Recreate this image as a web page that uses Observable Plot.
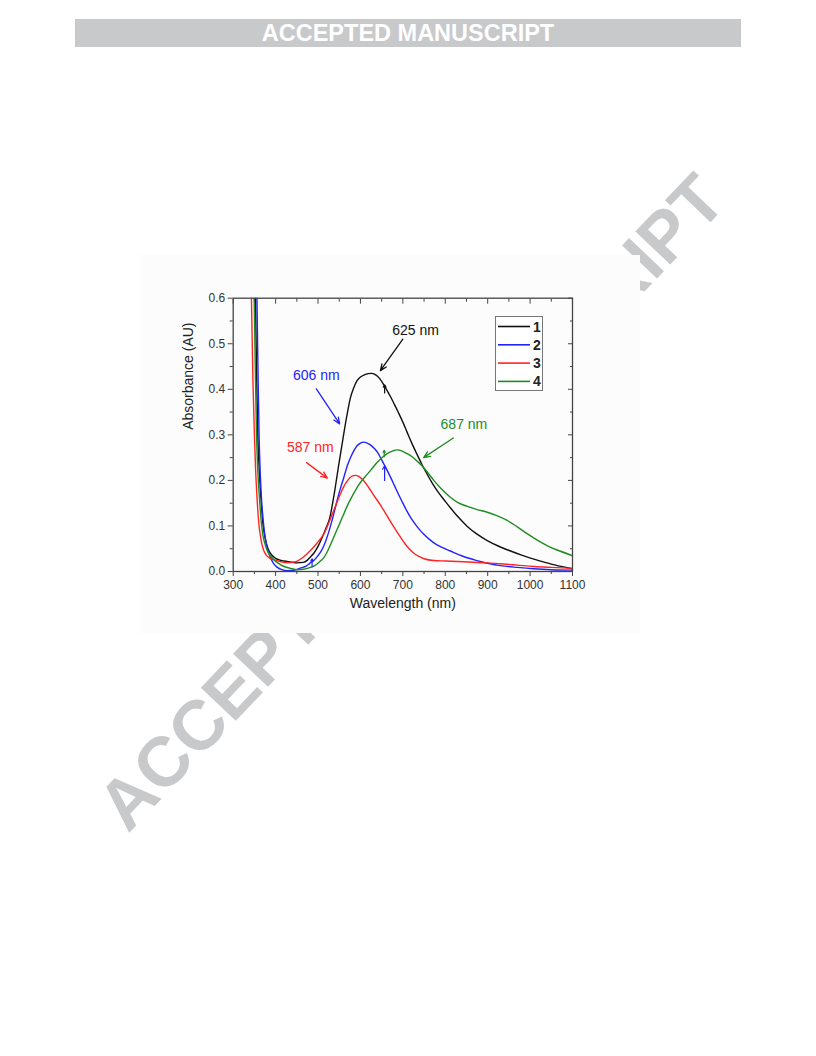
<!DOCTYPE html>
<html><head><meta charset="utf-8">
<script src="https://cdn.jsdelivr.net/npm/d3@7"></script>
<script src="https://cdn.jsdelivr.net/npm/@observablehq/plot@0.6"></script>
<style>
body{margin:0;width:816px;height:1056px;position:relative;background:#fff;font-family:"Liberation Sans",Arial,sans-serif;overflow:hidden}
#bar{position:absolute;left:75px;top:19px;width:666px;height:28px;background:#c8c9cb;color:#fff;font-weight:bold;font-size:23.5px;text-align:center;line-height:29px}
#wm{position:absolute;left:411px;top:502px;transform:translate(-50%,-50%) rotate(-46.4deg);font-size:70px;font-weight:bold;color:#c8c9cb;white-space:nowrap;line-height:1}
#chart{position:absolute;left:140px;top:255px;width:500px;height:378px;background:#fcfcfc}
#legend{position:absolute;left:355px;top:61px;width:46px;height:73px;border:1px solid #777;background:#fff}
</style>
</head><body>
<div id="bar">ACCEPTED MANUSCRIPT</div>
<div id="wm">ACCEPTED MANUSCRIPT</div>
<div id="chart"><div id="legend"></div></div>
<script>
// ---- data ----
const seriesNames = ["1", "2", "3", "4"];
const seriesColors = ["#111111", "#2323ff", "#ff2424", "#1f8c1f"];
const xTicks = [300, 400, 500, 600, 700, 800, 900, 1000, 1100];
const xMinor = [350, 450, 550, 650, 750, 850, 950, 1050];
const yTicks = [0.0, 0.1, 0.2, 0.3, 0.4, 0.5, 0.6];
const yMinor = [0.05, 0.15, 0.25, 0.35, 0.45, 0.55];
const xLabel = "Wavelength (nm)";
const yLabel = "Absorbance (AU)";

const wl1 = [345,348,352.6,355,358,361,364,367,370,373,376,380,384,392,400,410,420,435,450,465,475,482,490,500,510,520,528,534,539,544,549,556,562,570,576,584,592,600,610,626,635,645,655,663,672,680,690,700,710,720,734,745,757,770,785,800,812,830,852,875,899,925,954,980,1009,1035,1064,1085,1100];
const abs1 = [0.9,0.75,0.6,0.44,0.3,0.23,0.18,0.14,0.105,0.085,0.07,0.056,0.046,0.035,0.029,0.025,0.023,0.021,0.019,0.02,0.025,0.032,0.04,0.055,0.075,0.098,0.119,0.148,0.175,0.205,0.235,0.275,0.31,0.352,0.38,0.403,0.419,0.427,0.432,0.435,0.432,0.424,0.41,0.397,0.382,0.367,0.348,0.328,0.306,0.284,0.256,0.235,0.214,0.193,0.172,0.154,0.14,0.12,0.099,0.082,0.068,0.056,0.045,0.036,0.027,0.02,0.013,0.009,0.006];

const wl2 = [352,354,356,358.5,361,364,367,370,373,376,380,384,390,395,404,415,427,445,460,472,478,483,490,500,507,514,520,527,533,539,545,553,561,569,577,585,592,600,608,616,625,633,640,650,663,672,680,690,700,710,720,734,750,762,773,790,812,840,875,900,930,970,1009,1050,1100];
const abs2 = [0.95,0.78,0.6,0.44,0.3,0.21,0.155,0.12,0.092,0.072,0.053,0.04,0.026,0.018,0.009,0.004,0.002,0.003,0.008,0.012,0.016,0.02,0.024,0.035,0.044,0.057,0.072,0.092,0.112,0.133,0.156,0.183,0.207,0.232,0.251,0.266,0.276,0.282,0.284,0.282,0.277,0.27,0.262,0.245,0.222,0.205,0.189,0.169,0.15,0.132,0.116,0.098,0.081,0.071,0.063,0.054,0.045,0.034,0.024,0.018,0.013,0.009,0.006,0.004,0.003];

const wl3 = [338,340.5,343,346.5,350,353,356,360,363,366,369,372,378,385,396,410,427,440,451,462,472,482,492,500,507,514,525,537,549,561,570,578,588,596,605,614,624,634,645,654,663,672,682,694,705,716,726,738,750,773,800,852,900,930,970,1009,1050,1100];
const abs3 = [0.95,0.75,0.6,0.42,0.3,0.22,0.165,0.11,0.085,0.068,0.055,0.046,0.036,0.03,0.026,0.022,0.019,0.02,0.023,0.029,0.037,0.046,0.056,0.065,0.073,0.083,0.106,0.134,0.162,0.187,0.2,0.208,0.211,0.209,0.202,0.192,0.178,0.164,0.149,0.136,0.122,0.108,0.093,0.076,0.061,0.049,0.04,0.033,0.028,0.024,0.023,0.021,0.019,0.017,0.014,0.011,0.009,0.007];

const wl4 = [341,344,347,349.5,352,355,358,362,366,370,375,380,388,396,405,420,435,451,465,475,482,490,500,507,514,520,528,537,549,561,572,584,596,610,624,638,652,665,677,687,697,710,722,734,745,757,773,790,812,830,852,875,899,920,946,970,993,1015,1040,1070,1100];
const abs4 = [0.95,0.85,0.75,0.6,0.45,0.3,0.22,0.16,0.11,0.08,0.06,0.046,0.034,0.026,0.019,0.011,0.007,0.004,0.005,0.007,0.009,0.012,0.018,0.024,0.031,0.04,0.056,0.075,0.101,0.127,0.15,0.171,0.19,0.207,0.222,0.238,0.251,0.26,0.265,0.267,0.265,0.259,0.252,0.242,0.232,0.219,0.2,0.182,0.163,0.151,0.143,0.136,0.13,0.123,0.112,0.098,0.083,0.07,0.057,0.045,0.035];

// peak annotations: label, colour index, text position, arrow start and end (data units)
const annLabels = ["625 nm", "606 nm", "587 nm", "687 nm"];
const annSeries = [0, 1, 2, 3];
const annTextX = [730, 496, 482, 844];
const annTextY = [0.529, 0.43, 0.273, 0.323];
const annX1 = [700, 496, 473, 819];
const annY1 = [0.51, 0.401, 0.239, 0.293];
const annX2 = [647, 551, 522, 749];
const annY2 = [0.441, 0.324, 0.205, 0.25];

// small data-reader marks left on curves
const mkSeries = [0, 1, 3, 1];
const mkX = [657, 657, 656, 486];
const mkY1 = [0.392, 0.2, 0.252, 0.012];
const mkY2 = [0.41, 0.232, 0.266, 0.028];

// ---- build ----
const wls = [wl1, wl2, wl3, wl4];
const abss = [abs1, abs2, abs3, abs4];
const series = seriesNames.map((name, i) => wls[i].map((w, j) => ({wl: w, a: abss[i][j], s: name})));
const ann = annLabels.map((l, i) => ({l, c: seriesColors[annSeries[i]], tx: annTextX[i], ty: annTextY[i], x1: annX1[i], y1: annY1[i], x2: annX2[i], y2: annY2[i]}));
const mk = mkX.map((x, i) => ({x, y1: mkY1[i], y2: mkY2[i], c: seriesColors[mkSeries[i]]}));

const axisColor = "#444";
const plot = Plot.plot({
  width: 500, height: 378,
  marginLeft: 92.7, marginRight: 68, marginTop: 42.7, marginBottom: 62,
  x: {domain: [300, 1100]},
  y: {domain: [0, 0.6]},
  style: {background: "#fcfcfc", fontFamily: "'Liberation Sans', Arial, sans-serif", fontSize: "12px", color: "#333", overflow: "visible"},
  marks: [
    ...series.map((d, i) => Plot.line(d, {x: "wl", y: "a", stroke: seriesColors[i], strokeWidth: 1.4, curve: "monotone-x", clip: true})),
    Plot.arrow(mk, {x1: "x", x2: "x", y1: "y1", y2: "y2", stroke: "c", strokeWidth: 1.2, headLength: 5}),
    Plot.arrow(ann, {x1: "x1", y1: "y1", x2: "x2", y2: "y2", stroke: "c", strokeWidth: 1.3, headLength: 8, headAngle: 45}),
    Plot.text(ann, {x: "tx", y: "ty", text: "l", fill: "c", fontSize: 14}),
    Plot.frame({stroke: axisColor, strokeWidth: 1.3}),
    Plot.axisX({anchor: "bottom", ticks: xTicks, tickSize: 5, tickPadding: 4, tickFormat: d => String(d), fontSize: 12, label: null, stroke: axisColor, fill: "#333"}),
    Plot.axisX({anchor: "bottom", ticks: xMinor, tickSize: 3, fill: "none", label: null, stroke: axisColor}),
    Plot.axisX({anchor: "top", ticks: xTicks, tickSize: 5, dy: 5, fill: "none", label: null, stroke: axisColor}),
    Plot.axisX({anchor: "top", ticks: xMinor, tickSize: 3, dy: 3, fill: "none", label: null, stroke: axisColor}),
    Plot.axisY({anchor: "left", ticks: yTicks, tickSize: 5, tickPadding: 3, tickFormat: d3.format(".1f"), fontSize: 12, label: null, stroke: axisColor, fill: "#333"}),
    Plot.axisY({anchor: "left", ticks: yMinor, tickSize: 3, fill: "none", label: null, stroke: axisColor}),
    Plot.axisY({anchor: "right", ticks: yTicks, tickSize: 5, dx: -5, fill: "none", label: null, stroke: axisColor}),
    Plot.axisY({anchor: "right", ticks: yMinor, tickSize: 3, dx: -3, fill: "none", label: null, stroke: axisColor}),
    Plot.text([xLabel], {frameAnchor: "bottom", dy: 36, fontSize: 14, fill: "#222"}),
    Plot.text([yLabel], {frameAnchor: "left", dx: -45, dy: -5, rotate: -90, fontSize: 14, fill: "#222"})
  ]
});
document.getElementById("chart").prepend(plot);

// legend
const lg = d3.select("#legend").append("svg").attr("width", 46).attr("height", 73);
seriesNames.forEach((n, i) => {
  const y = 9.5 + i * 18.3;
  lg.append("line").attr("x1", 2).attr("x2", 34).attr("y1", y).attr("y2", y).attr("stroke", seriesColors[i]).attr("stroke-width", 1.6);
  lg.append("text").attr("x", 41).attr("y", y).attr("dy", "0.36em").attr("text-anchor", "middle")
    .attr("font-weight", "bold").attr("font-size", 14).attr("fill", "#222").attr("font-family", "'Liberation Sans', Arial, sans-serif").text(n);
});
</script>
</body></html>
